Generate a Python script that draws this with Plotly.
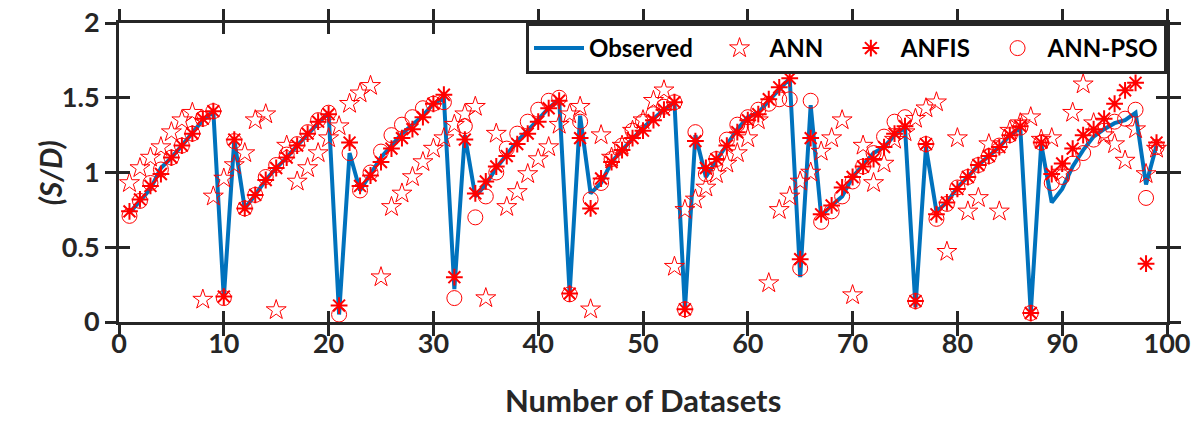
import plotly.graph_objects as go

datasets = list(range(1, 100))

observed = [0.73, 0.81, 0.89, 1.03, 1.10, 1.18, 1.26, 1.35, 1.41, 0.16,
            1.22, 0.76, 0.85, 0.95, 1.03, 1.10, 1.18, 1.26, 1.33, 1.40,
            0.05, 1.13, 0.88, 0.99, 1.10, 1.18, 1.26, 1.32, 1.38, 1.46,
            1.50, 0.22, 1.25, 0.84, 0.92, 1.03, 1.12, 1.21, 1.28, 1.36,
            1.43, 1.49, 0.19, 1.38, 0.86, 0.93, 1.07, 1.15, 1.23, 1.30,
            1.36, 1.42, 1.47, 0.08, 1.25, 0.97, 1.08, 1.19, 1.29, 1.37,
            1.40, 1.48, 1.56, 1.63, 0.30, 1.45, 0.71, 0.78, 0.84, 0.97,
            1.05, 1.13, 1.17, 1.25, 1.30, 0.10, 1.17, 0.74, 0.80, 0.90,
            0.97, 1.05, 1.11, 1.17, 1.25, 1.30, 0.06, 1.19, 0.80, 0.89,
            1.04, 1.15, 1.24, 1.29, 1.33, 1.35, 1.40, 0.92, 1.18]

ann = [0.93, 1.03, 1.10, 1.17, 1.27, 1.35, 1.40, 0.15, 0.84, 0.96,
       1.05, 1.13, 1.35, 1.39, 0.08, 1.18, 0.94, 1.03, 1.13, 1.23,
       1.31, 1.46, 1.53, 1.58, 0.30, 0.77, 0.86, 0.97, 1.07, 1.16,
       1.23, 1.32, 1.39, 1.44, 0.16, 1.26, 0.77, 0.87, 0.99, 1.09,
       1.17, 1.32, 1.39, 1.44, 0.085, 1.25, 1.10, 1.18, 1.28, 1.35,
       1.48, 1.55, 0.37, 0.75, 0.82, 0.90, 0.99, 1.06, 1.13, 1.23,
       1.35, 0.26, 0.75, 0.84, 0.94, 1.00, 1.14, 1.23, 1.35, 0.18,
       1.18, 0.93, 1.06, 1.22, 1.27, 1.36, 1.43, 1.47, 0.47, 1.23,
       0.74, 0.83, 1.19, 0.74, 1.28, 1.33, 1.37, 1.22, 1.23, 1.00,
       1.40, 1.59, 1.33, 1.25, 1.19, 1.08, 1.29, 0.99, 1.16]

anfis = [0.74, 0.82, 0.91, 0.99, 1.10, 1.18, 1.26, 1.36, 1.41, 0.17,
         1.22, 0.76, 0.85, 0.95, 1.03, 1.10, 1.18, 1.26, 1.34, 1.39,
         0.11, 1.20, 0.91, 0.98, 1.07, 1.16, 1.23, 1.29, 1.37, 1.46,
         1.52, 0.30, 1.22, 0.86, 0.94, 1.04, 1.11, 1.19, 1.26, 1.34,
         1.43, 1.48, 0.19, 1.23, 0.76, 0.96, 1.07, 1.15, 1.23, 1.28,
         1.35, 1.42, 1.47, 0.085, 1.21, 1.03, 1.09, 1.18, 1.27, 1.35,
         1.39, 1.49, 1.57, 1.63, 0.42, 1.23, 0.72, 0.78, 0.90, 0.97,
         1.04, 1.09, 1.17, 1.26, 1.31, 0.14, 1.19, 0.72, 0.80, 0.89,
         0.97, 1.05, 1.11, 1.17, 1.25, 1.31, 0.06, 1.20, 0.99, 1.06,
         1.16, 1.25, 1.29, 1.36, 1.46, 1.55, 1.60, 0.39, 1.20]

ann_pso = [0.71, 0.81, 0.93, 1.02, 1.10, 1.18, 1.26, 1.36, 1.41, 0.16,
           1.21, 0.76, 0.85, 0.97, 1.05, 1.12, 1.19, 1.27, 1.35, 1.40,
           0.05, 1.13, 0.88, 1.00, 1.14, 1.25, 1.32, 1.37, 1.43, 1.46,
           1.47, 0.16, 1.31, 0.70, 0.84, 1.00, 1.16, 1.26, 1.34, 1.42,
           1.48, 1.50, 0.185, 1.34, 0.82, 0.93, 1.09, 1.18, 1.28, 1.34,
           1.39, 1.44, 1.47, 0.085, 1.27, 0.99, 1.09, 1.22, 1.32, 1.37,
           1.42, 1.46, 1.49, 1.49, 0.36, 1.48, 0.67, 0.74, 0.84, 0.94,
           1.04, 1.13, 1.24, 1.34, 1.37, 0.14, 1.19, 0.69, 0.79, 0.90,
           0.97, 1.05, 1.11, 1.18, 1.25, 1.30, 0.06, 1.20, 0.93, 0.97,
           1.06, 1.13, 1.22, 1.28, 1.34, 1.36, 1.42, 0.83, 1.17]

x_ticks = [0, 10, 20, 30, 40, 50, 60, 70, 80, 90, 100]
y_ticks = [0, 0.5, 1, 1.5, 2]
y_tick_labels = ["0", "0.5", "1", "1.5", "2"]
x_title = "Number of Datasets"
y_title = "(S/D)"

FONT = "Lato, 'Open Sans', sans-serif"
RED = "#FF0000"
BLUE = "#0072BD"
DARK = "#262626"
NB = "\u00a0"

fig = go.Figure()
fig.add_trace(go.Scatter(x=datasets, y=observed, mode="lines", name="Observed" + NB * 2,
                         line=dict(color=BLUE, width=4)))
fig.add_trace(go.Scatter(x=datasets, y=ann, mode="markers", name="ANN" + NB * 2,
                         marker=dict(symbol="star-open", size=15, color=RED,
                                     line=dict(color=RED, width=1))))
fig.add_trace(go.Scatter(x=datasets, y=anfis, mode="markers", name="ANFIS" + NB * 2,
                         marker=dict(symbol="asterisk-open", size=14, color=RED,
                                     line=dict(color=RED, width=2))))
fig.add_trace(go.Scatter(x=datasets, y=ann_pso, mode="markers", name="ANN-PSO",
                         marker=dict(symbol="circle-open", size=15, color=RED,
                                     line=dict(color=RED, width=1))))

axis_common = dict(showgrid=False, zeroline=False, linecolor=DARK, linewidth=3,
                   tickcolor=DARK, tickwidth=3, ticklen=11, mirror="allticks",
                   showline=True, automargin=False)

fig.update_layout(
    width=1203, height=421,
    margin=dict(l=119, r=36, t=23, b=99),
    paper_bgcolor="white", plot_bgcolor="white",
    font=dict(family=FONT, size=24, color="#000000"),
    xaxis=dict(range=[0, 100], tickvals=x_ticks, ticks="outside",
               ticklabelstandoff=-15,
               tickfont=dict(family=FONT, size=27, color=DARK, weight="bold"),
               **axis_common),
    yaxis=dict(range=[0, 2], tickvals=y_ticks, ticktext=y_tick_labels, ticks="outside",
               tickfont=dict(family=FONT, size=27, color=DARK, weight="bold"),
               **axis_common),
    xaxis2=dict(range=[0, 100], tickvals=x_ticks, ticks="inside", overlaying="x",
                showticklabels=False, **axis_common),
    yaxis2=dict(range=[0, 2], tickvals=y_ticks, ticks="inside", overlaying="y",
                showticklabels=False, **axis_common),
    legend=dict(orientation="h", x=1, xanchor="right", y=1.0, yanchor="top",
                bgcolor="white", bordercolor=DARK, borderwidth=3,
                font=dict(family=FONT, size=24, color="#000000", weight="bold"),
                itemwidth=50, tracegroupgap=0),
    showlegend=True,
    annotations=[
        dict(text="<b>" + x_title + "</b>", xref="paper", yref="paper", x=0.5, y=-0.331,
             xanchor="center", yanchor="bottom", showarrow=False,
             font=dict(family=FONT, size=31, color=DARK)),
        dict(text="<b><i>" + y_title + "</i></b>", xref="paper", yref="paper", x=-0.066, y=0.5,
             xanchor="center", yanchor="middle", showarrow=False, textangle=-90,
             font=dict(family=FONT, size=30, color=DARK)),
    ],
)
fig.add_trace(go.Scatter(x=[None], y=[None], xaxis="x2", yaxis="y2", showlegend=False,
                         hoverinfo="skip"))

fig.write_html("out.html", config={"displayModeBar": False},
               post_script="document.body.style.margin='0px';")
